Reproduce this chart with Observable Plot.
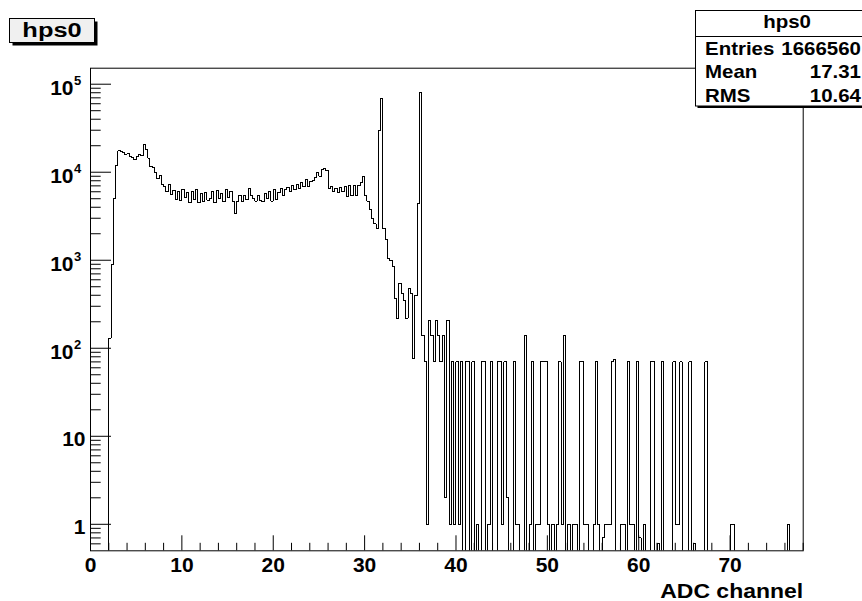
<!DOCTYPE html>
<html>
<head>
<meta charset="utf-8">
<script src="https://cdn.jsdelivr.net/npm/d3@7"></script>
<script src="https://cdn.jsdelivr.net/npm/@observablehq/plot@0.6"></script>
<style>
  html, body { margin: 0; padding: 0; background: #fff; }
  #wrap { position: relative; width: 862px; height: 601px; overflow: hidden; }
  #wrap svg { position: absolute; left: 0; top: 0; }
</style>
</head>
<body>
<div id="wrap"></div>
<script>
// ---------------- data ----------------
const histTitle = "hps0";
const xTitle = "ADC channel";
const statsLabels = ["Entries", "Mean", "RMS"];
const statsValues = ["1666560", "17.31", "10.64"];

const binWidth = 0.25;
const xMin = 0;
const xMax = 78;
const yMin = 0.5;
const yMax = 1.52e5;

// contiguous bins starting at mainStart (width binWidth)
const mainStart = 2.0;
const mainCounts = [
  130, 900, 5000, 12000, 17500, 17000, 16800, 16000,          // 2.00 - 3.75
  16200, 15200, 14800, 13800, 15000, 16000, 15500, 20500,     // 4.00 - 5.75
  18000, 14500, 11500, 11200, 10000, 8400, 9200, 7200,        // 6.00 - 7.75
  6800, 6000, 7200, 5600, 6200, 4900, 6000, 4800,             // 8.00 - 9.75
  6300, 5100, 5900, 4500, 6100, 4900, 6400, 4500,             // 10.00 - 11.75
  5700, 4600, 5900, 4800, 5000, 6000, 4500, 6200,             // 12.00 - 13.75
  5000, 5800, 4600, 6400, 5100, 6000, 4700, 3400,             // 14.00 - 15.75
  4700, 5500, 4600, 5400, 4900, 6600, 5500, 5000,             // 16.00 - 17.75
  4700, 5500, 4800, 4600, 5800, 5000, 6100, 4700,             // 18.00 - 19.75
  6300, 4900, 5900, 6500, 5400, 6300, 6700, 6000,             // 20.00 - 21.75
  7000, 6300, 7200, 6500, 7600, 6900, 8200, 6800,             // 22.00 - 23.75
  7800, 8100, 8800, 10000, 9000, 10600, 11000, 10500,         // 24.00 - 25.75
  6500, 6800, 6100, 6500, 5900, 6700, 6000, 6900,             // 26.00 - 27.75
  5300, 7000, 5400, 7100, 5500, 7000, 7600, 8900,             // 28.00 - 29.75
  5400, 4700, 3800, 3000, 2600, 2300, 30000, 68000,           // 30.00 - 31.75
  2300, 1700, 1050, 1000, 850, 370, 220, 550,                 // 32.00 - 33.75
  420, 350, 220, 480, 420, 76, 400, 4400,                     // 34.00 - 35.75
  81000                                                        // 36.00
];

// sparse tail bins (bin low edge, content); all others are empty
const tailBins = [
  36.25, 36.5, 36.75, 37.0, 37.25, 37.5, 37.75, 38.0, 38.25, 38.5, 38.75,
  39.0, 39.25, 39.5, 39.75, 40.0, 40.25, 40.5, 41.0, 41.25, 41.75,
  42.25, 42.75, 43.0, 43.5, 43.75, 44.5, 44.75, 45.0, 45.25, 45.5,
  46.25, 46.5, 46.75, 47.5, 48.0, 48.25, 48.75, 49.0, 49.25, 49.5, 49.75,
  50.0, 50.5, 51.0, 51.25, 51.5, 51.75, 52.25, 52.75, 53.0, 53.5, 53.75,
  54.0, 54.25, 55.0, 55.25, 55.5, 56.0, 56.25, 56.5, 56.75, 57.0, 57.25,
  58.0, 58.25, 58.75, 59.0, 59.25, 59.75, 60.0, 60.5, 61.25, 61.5,
  62.0, 62.5, 63.75, 64.0, 64.25, 64.5, 65.5, 66.0, 67.25,
  70.0, 70.25, 76.25
];
const tailCounts = [
  140, 70, 1, 207, 140, 70, 207, 140, 70, 140, 2,
  207, 1, 70, 1, 70, 1, 70, 70, 70, 70,
  1, 70, 70, 1, 70, 70, 70, 1, 70, 2,
  70, 1, 1, 140, 1, 70, 1, 1, 70, 70, 70,
  1, 1, 1, 70, 1, 140, 1, 1, 1, 70, 70,
  1, 1, 1, 70, 1, 0.7, 1, 1, 1, 70, 75,
  1, 1, 70, 1, 1, 70, 0.7, 1, 70, 70,
  0.6, 70, 70, 1, 1, 70, 70, 0.6, 70,
  1, 1, 1
];

const xMajorTicks = [0, 10, 20, 30, 40, 50, 60, 70];
const xMinorStep = 2;
const yDecades = [1, 10, 100, 1000, 10000, 100000];
const yLabelBase = ["1", "10", "10", "10", "10", "10"];
const yLabelExp = ["", "", "2", "3", "4", "5"];

// ---------------- build ----------------
const nBins = Math.round((xMax - xMin) / binWidth);
const content = new Array(nBins).fill(0);
mainCounts.forEach((v, i) => { content[Math.round((mainStart - xMin) / binWidth) + i] = v; });
tailBins.forEach((b, i) => { content[Math.round((b - xMin) / binWidth)] = tailCounts[i]; });

const below = yMin / 10; // empty bins are drawn down to (and clipped at) the frame bottom
const outline = [];
content.forEach((v, k) => {
  const lo = xMin + k * binWidth, hi = lo + binWidth, y = v > 0 ? v : below;
  outline.push({x: lo, y}, {x: hi, y});
});

const xMinorTicks = d3.range(xMin, xMax + 1e-9, xMinorStep).filter(v => !xMajorTicks.includes(v));
const yMinorTicks = [];
for (const d of [0.1, ...yDecades]) for (let m = 2; m <= 9; m++) {
  const v = +(m * d).toPrecision(3);
  if (v > yMin && v < yMax) yMinorTicks.push(v);
}
const idx = d3.range(yDecades.length);
const plainIdx = idx.filter(i => yLabelExp[i] === "");
const expIdx = idx.filter(i => yLabelExp[i] !== "");

const font = "'Liberation Sans', Arial, Helvetica, sans-serif";

const chart = Plot.plot({
  width: 862,
  height: 601,
  marginLeft: 90,
  marginRight: 59.3,
  marginTop: 67.7,
  marginBottom: 50.7,
  x: {domain: [xMin, xMax], axis: null},
  y: {type: "log", domain: [yMin, yMax], axis: null},
  style: {fontFamily: font, fontWeight: "bold", background: "white", color: "black", overflow: "visible"},
  marks: [
    Plot.line(outline, {x: "x", y: "y", stroke: "black", strokeWidth: 1, clip: true, shapeRendering: "crispEdges"}),
    Plot.frame({stroke: "black", strokeWidth: 1}),
    // x ticks (inside the frame)
    Plot.axisX({anchor: "bottom", ticks: xMajorTicks, tickSize: 15, dy: -15, fill: "none", label: null}),
    Plot.axisX({anchor: "bottom", ticks: xMinorTicks, tickSize: 7.5, dy: -7.5, fill: "none", label: null}),
    Plot.axisX({anchor: "bottom", ticks: xMajorTicks, tickSize: 0, tickPadding: 6, fontSize: 21, tickFormat: d => String(d), label: null}),
    // y ticks (inside the frame)
    Plot.axisY({anchor: "left", ticks: yDecades, tickSize: 21, dx: 21, fill: "none", label: null}),
    Plot.axisY({anchor: "left", ticks: yMinorTicks, tickSize: 10.7, dx: 10.7, fill: "none", label: null}),
    // y tick labels
    Plot.text(plainIdx, {y: i => yDecades[i], text: i => yLabelBase[i], frameAnchor: "left", textAnchor: "end", dx: -5, dy: 3, fontSize: 21, fontWeight: "bold"}),
    Plot.text(expIdx, {y: i => yDecades[i], text: i => yLabelBase[i], frameAnchor: "left", textAnchor: "end", dx: -17, dy: 4, fontSize: 21, fontWeight: "bold"}),
    Plot.text(expIdx, {y: i => yDecades[i], text: i => yLabelExp[i], frameAnchor: "left", textAnchor: "start", dx: -16.5, dy: -3, fontSize: 13, fontWeight: "bold"}),
    // x title
    Plot.text([xTitle], {text: d => d, frameAnchor: "bottom-right", textAnchor: "end", lineAnchor: "bottom", dy: 47, fontSize: 21, fontWeight: "bold"})
  ]
});
document.getElementById("wrap").appendChild(chart);

// ROOT renders the axis title slightly wider than Helvetica metrics
d3.select(chart).selectAll("text").filter(function() { return this.textContent === xTitle; })
  .attr("textLength", 143).attr("lengthAdjust", "spacingAndGlyphs");

// ---------------- overlays: title box and stats box ----------------
const ov = d3.select("#wrap").append("svg")
  .attr("width", 862).attr("height", 601)
  .style("pointer-events", "none")
  .attr("font-family", font).attr("font-weight", "bold");

function wideText(x, y, anchor, size, sx, s) {
  ov.append("text").attr("transform", `translate(${x},${y}) scale(${sx},1)`)
    .attr("text-anchor", anchor).attr("font-size", size).text(s);
}

// title box
const tb = {x: 9.5, y: 18.5, w: 85, h: 24};
ov.append("rect").attr("x", tb.x + 3).attr("y", tb.y + 3).attr("width", tb.w).attr("height", tb.h).attr("fill", "black");
ov.append("rect").attr("x", tb.x).attr("y", tb.y).attr("width", tb.w).attr("height", tb.h).attr("fill", "#f0f0f0").attr("stroke", "black");
wideText(tb.x + tb.w / 2, tb.y + 18, "middle", 20, 1.27, histTitle);

// stats box
const sb = {x: 695.5, y: 10.5, w: 183, h: 95.5};
ov.append("rect").attr("x", sb.x + 2).attr("y", sb.y + 2).attr("width", sb.w).attr("height", sb.h).attr("fill", "black");
ov.append("rect").attr("x", sb.x).attr("y", sb.y).attr("width", sb.w).attr("height", sb.h).attr("fill", "white").attr("stroke", "black");
ov.append("line").attr("x1", sb.x).attr("x2", sb.x + sb.w).attr("y1", 36.5).attr("y2", 36.5).attr("stroke", "black");
wideText(sb.x + sb.w / 2, 28.3, "middle", 17.5, 1.17, histTitle);
const rowBase = [55, 78.3, 101.7];
statsLabels.forEach((s, i) => {
  wideText(705, rowBase[i], "start", 17.5, 1.17, s);
  wideText(861, rowBase[i], "end", 17.5, 1.17, statsValues[i]);
});
</script>
</body>
</html>
